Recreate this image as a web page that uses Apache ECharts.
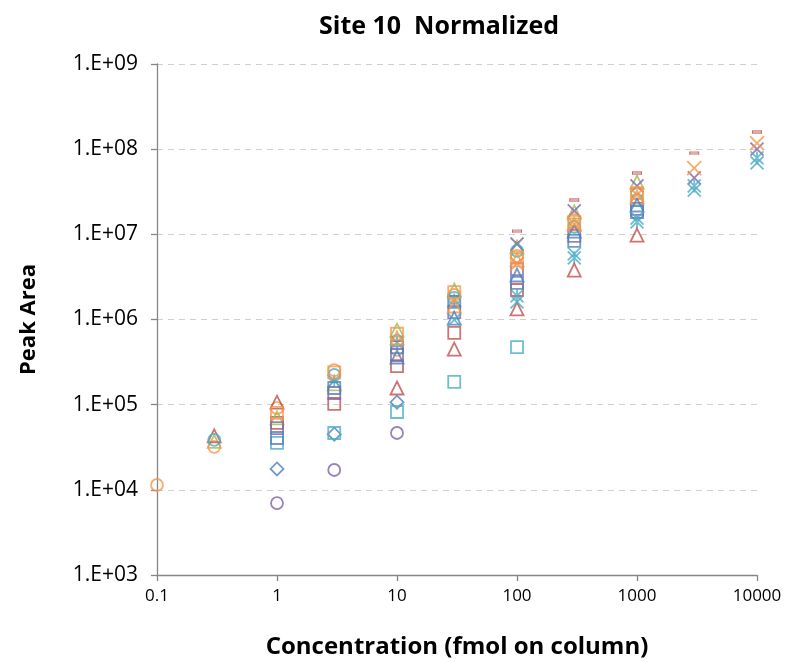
<!DOCTYPE html>
<html>
<head>
<meta charset="utf-8">
<script src="https://cdn.jsdelivr.net/npm/echarts@6/dist/echarts.min.js"></script>
<style>
  html, body { margin: 0; padding: 0; background: #fff; }
  #chart { width: 791px; height: 662px; }
</style>
</head>
<body>
<div id="chart"></div>
<script>
// Concentrations (fmol on column) shared by every peptide
const concentration = [0.1, 0.3, 1, 3, 10, 30, 100, 300, 1000, 3000, 10000];

// Peak areas per peptide, one value per concentration (null = not measured)
const orangeCircle   = [1.14e4, 3.2e4, 9.1e4, 2.55e5, 4.4e5, 1.94e6, 5.6e6, 1.47e7, 3.05e7, null, null];
const aquaCircle     = [null, 3.85e4, null, 2.23e5, 5.6e5, 1.79e6, 6.4e6, 1.22e7, 2.53e7, null, null];
const redTriangle    = [null, 4.3e4, 1.07e5, null, 1.57e5, 4.5e5, 1.33e6, 3.8e6, 9.8e6, null, null];
const greenTriangle  = [null, 3.7e4, 7.0e4, 1.75e5, 7.5e5, 2.22e6, 7.1e6, 1.83e7, 4.1e7, null, null];
const orangeSquare   = [null, null, 8.0e4, 2.4e5, 6.8e5, 2.1e6, 5.3e6, 1.4e7, 3.05e7, null, null];
const orangeTriangle = [null, null, null, null, 6.1e5, 1.44e6, 5.0e6, 1.32e7, 2.74e7, null, null];
const purpleX        = [null, null, null, null, null, null, 7.7e6, 1.88e7, 3.7e7, 4.6e7, 1.0e8];
const redDash        = [null, null, null, null, null, null, 1.09e7, 2.53e7, 5.25e7, 9.0e7, 1.59e8];
const orangeX        = [null, null, null, null, null, null, 4.5e6, 1.32e7, 2.9e7, 6.0e7, 1.18e8];
const aquaStar       = [null, null, null, 1.9e5, 5.3e5, 1.7e6, 1.89e6, 5.3e6, 1.4e7, 3.7e7, 7.9e7];
const aquaX          = [null, null, null, null, null, 9.9e5, 1.61e6, 5.9e6, 1.55e7, 3.3e7, 6.9e7];
const purpleSquare   = [null, null, 5.3e4, 1.37e5, 3.83e5, 1.22e6, 3.9e6, 9.6e6, 1.99e7, null, null];
const redSquare      = [null, null, 6.1e4, 1.02e5, 2.84e5, 6.95e5, 2.22e6, null, null, null, null];
const blueSquare     = [null, null, 4.06e4, 1.57e5, 4.75e5, 1.61e6, 2.69e6, 8.4e6, 1.83e7, null, null];
const blueTriangle   = [null, null, null, null, 3.63e5, 1.04e6, 3.33e6, 1.09e7, 2.21e7, null, null];
const aquaSquare     = [null, null, 3.55e4, 4.65e4, 8.2e4, 1.85e5, 4.75e5, null, null, null, null];
const purpleCircle   = [null, null, 7.0e3, 1.71e4, 4.65e4, null, null, null, null, null, null];
const blueDiamond    = [null, null, 1.76e4, 4.5e4, 1.07e5, null, null, null, null, null, null];

// Axis tick labels
const xTickLabels = ['0.1', '1', '10', '100', '1000', '10000'];
const yTickLabels = ['1.E+03', '1.E+04', '1.E+05', '1.E+06', '1.E+07', '1.E+08', '1.E+09'];

const C = {
  blue: '#4F81BD', red: '#C0504D', green: '#9BBB59',
  purple: '#8064A2', aqua: '#4BACC6', orange: '#F79646'
};
const SYM = {
  x: 'path://M0,0L10,10M10,0L0,10',
  star: 'path://M0,0L10,10M10,0L0,10M5,0L5,10'
};

function pairs(values) {
  const out = [];
  values.forEach((v, i) => { if (v != null) out.push([concentration[i], v]); });
  return out;
}

function hollow(name, values, symbol, color, size) {
  return {
    name: name, type: 'scatter', data: pairs(values),
    symbol: symbol, symbolSize: size || 11,
    itemStyle: { color: 'rgba(255,255,255,0)', borderColor: color, borderWidth: 1.8 },
    emphasis: { disabled: true }
  };
}

const series = [
  hollow('blueDiamond', blueDiamond, 'diamond', C.blue, 13),
  hollow('redSquare', redSquare, 'rect', C.red, 12),
  hollow('greenTriangle', greenTriangle, 'triangle', C.green, 13),
  hollow('purpleX', purpleX, SYM.x, C.purple, 13),
  hollow('aquaStar', aquaStar, SYM.star, C.aqua, 13),
  hollow('orangeCircle', orangeCircle, 'circle', C.orange, 12),
  hollow('purpleSquare', purpleSquare, 'rect', C.purple, 12),
  hollow('aquaSquare', aquaSquare, 'rect', C.aqua, 12),
  hollow('blueSquare', blueSquare, 'rect', C.blue, 12),
  hollow('redTriangle', redTriangle, 'triangle', C.red, 13),
  hollow('purpleCircle', purpleCircle, 'circle', C.purple, 12),
  hollow('aquaCircle', aquaCircle, 'circle', C.aqua, 12),
  hollow('orangeSquare', orangeSquare, 'rect', C.orange, 12),
  hollow('orangeTriangle', orangeTriangle, 'triangle', C.orange, 13),
  hollow('blueTriangle', blueTriangle, 'triangle', C.blue, 13),
  hollow('aquaX', aquaX, SYM.x, C.aqua, 13),
  hollow('orangeX', orangeX, SYM.x, C.orange, 14),
  {
    name: 'redDash', type: 'scatter', data: pairs(redDash),
    symbol: 'rect', symbolSize: [9, 3],
    itemStyle: { color: '#D99694', borderColor: C.red, borderWidth: 0.6 },
    emphasis: { disabled: true }
  }
];

const font = '"Open Sans", Lato, "DejaVu Sans", sans-serif';
const chart = echarts.init(document.getElementById('chart'));
chart.setOption({
  animation: false,
  backgroundColor: '#fff',
  title: {
    text: 'Site 10  Normalized', left: 434, top: 9, textAlign: 'center',
    textStyle: { fontFamily: font, fontSize: 25, fontWeight: 'bold', color: '#000' }
  },
  grid: { left: 157, right: 34, top: 64, bottom: 87, outerBoundsMode: 'none', containLabel: false },
  xAxis: {
    type: 'log', logBase: 10, min: 0.1, max: 10000,
    name: 'Concentration (fmol on column)', nameLocation: 'middle', nameGap: 60,
    nameTextStyle: { fontFamily: font, fontSize: 24, fontWeight: 'bold', color: '#000' },
    axisLine: { lineStyle: { color: '#868686', width: 1.3 } },
    axisTick: { show: true, length: 6, lineStyle: { color: '#868686', width: 1.3 } },
    splitLine: { show: false },
    axisLabel: {
      fontFamily: font, fontSize: 17, color: '#000', margin: 13,
      formatter: function (v) {
        const e = Math.round(Math.log10(v));
        return xTickLabels[e + 1];
      }
    }
  },
  yAxis: {
    type: 'log', logBase: 10, min: 1e3, max: 1e9, interval: 1,
    name: 'Peak Area', nameLocation: 'middle', nameGap: 117, nameRotate: 90,
    nameTextStyle: { fontFamily: font, fontSize: 22, fontWeight: 'bold', color: '#000' },
    axisLine: { show: true, lineStyle: { color: '#868686', width: 1.3 } },
    axisTick: { show: true, length: 6, lineStyle: { color: '#868686', width: 1.3 } },
    splitLine: { show: true, lineStyle: { color: '#D0D0D0', type: [6, 5], width: 1.2 } },
    axisLabel: {
      fontFamily: font, fontSize: 21, color: '#000', margin: 19,
      formatter: function (v) {
        const e = Math.round(Math.log10(v));
        return yTickLabels[e - 3];
      }
    }
  },
  series: series
});
</script>
</body>
</html>
